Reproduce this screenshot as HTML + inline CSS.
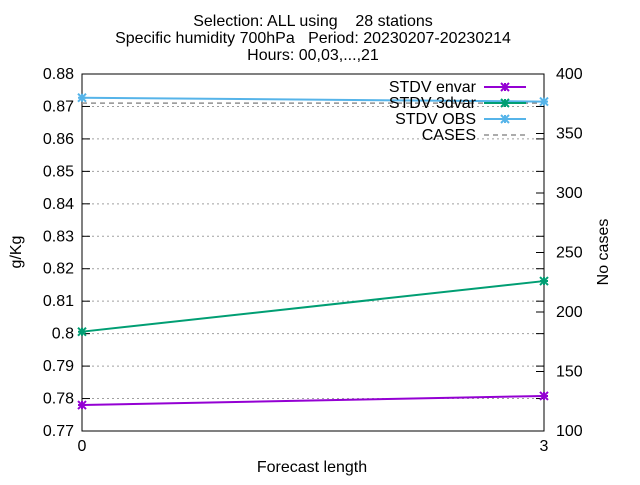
<!DOCTYPE html>
<html><head><meta charset="utf-8"><style>
body{margin:0;background:#fff}
svg{font-family:"Liberation Sans",sans-serif;font-size:16px}
</style></head><body>
<svg id="chart" width="640" height="480">
<g text-anchor="middle" fill="#000">
<text x="313" y="26" xml:space="preserve">Selection: ALL using    28 stations</text>
<text x="313" y="43" xml:space="preserve">Specific humidity 700hPa   Period: 20230207-20230214</text>
<text x="313" y="60">Hours: 00,03,...,21</text>
</g>
<g id="grid"></g><g id="axes"></g><g id="series"></g><g id="legend"></g>
<text transform="translate(21,252) rotate(-90)" text-anchor="middle">g/Kg</text>
<text transform="translate(608,252) rotate(-90)" text-anchor="middle">No cases</text>
<text x="312" y="472" text-anchor="middle">Forecast length</text>
</svg>
<script>
const xCats=[0,3];
const envar=[0.7780,0.7808];
const dvar3=[0.8006,0.8162];
const obs=[0.8727,0.8715];
const cases=[375.5,375.5];
const yTicks=[0.77,0.78,0.79,0.8,0.81,0.82,0.83,0.84,0.85,0.86,0.87,0.88];
const yTickLabels=["0.77","0.78","0.79","0.8","0.81","0.82","0.83","0.84","0.85","0.86","0.87","0.88"];
const y2Ticks=[100,150,200,250,300,350,400];
const NS="http://www.w3.org/2000/svg";
const L=82,R=544,T=74,B=431;
const xs=v=>L+(v-0)/(3-0)*(R-L);
const ys=v=>B-(v-0.77)/(0.88-0.77)*(B-T);
const y2s=v=>B-(v-100)/(300)*(B-T);
function mk(tag,attrs,parent,txt){const e=document.createElementNS(NS,tag);for(const k in attrs)e.setAttribute(k,attrs[k]);if(txt!=null)e.textContent=txt;parent.appendChild(e);return e;}
const grid=document.getElementById('grid'),axes=document.getElementById('axes'),ser=document.getElementById('series'),leg=document.getElementById('legend');
yTicks.forEach((v,i)=>{const y=ys(v);
 if(i>0&&i<yTicks.length-1){const g=mk('line',{x1:L,x2:R,y1:y,y2:y,stroke:'#a0a0a0','stroke-dasharray':'2,3'},grid);
 
 }
 mk('line',{x1:L,x2:L+8,y1:y,y2:y,stroke:'#000'},axes);
 mk('line',{x1:R,x2:R-8,y1:y,y2:y,stroke:'#000'},axes);
 const t=mk('text',{x:L-8,y:y+5,'text-anchor':'end'},axes,yTickLabels[i]);
 
 
});
y2Ticks.forEach(v=>{const y=y2s(v);
 mk('line',{x1:R,x2:R-8,y1:y,y2:y,stroke:'#000'},axes);
 const t=mk('text',{x:R+12,y:y+5},axes,String(v));
 
 
});
xCats.forEach(v=>{const x=xs(v);
 mk('line',{x1:x,x2:x,y1:B,y2:B-8,stroke:'#000'},axes);
 const t=mk('text',{x:x,y:B+20,'text-anchor':'middle'},axes,String(v));
 
 
});
const fr=mk('rect',{x:L,y:T,width:R-L,height:B-T,fill:'none',stroke:'#000'},axes);


function star(x,y,c,p){mk('path',{d:`M${x-4},${y-4}L${x+4},${y+4}M${x-4},${y+4}L${x+4},${y-4}M${x-4},${y}L${x+4},${y}M${x},${y-4}L${x},${y+4}`,stroke:c,'stroke-width':2},p);}
function series(vals,c,name,scale,dash){
 const g=mk('g',{},ser);
 
 
 const pts=vals.map((v,i)=>[xs(xCats[i]),scale(v)]);
 mk('polyline',{points:pts.map(p=>p.join(',')).join(' '),fill:'none',stroke:c,'stroke-width':dash?1.5:2,'stroke-dasharray':dash?'5,4':'none'},g);
 if(!dash)pts.forEach(p=>star(p[0],p[1],c,g));
}
series(cases,'#909090','series-cases',y2s,true);
series(envar,'#9400d3','series-stdv-envar',ys);
series(dvar3,'#009e73','series-stdv-3dvar',ys);
series(obs,'#56b4e9','series-stdv-obs',ys);
const items=[['STDV envar','#9400d3',0],['STDV 3dvar','#009e73',0],['STDV OBS','#56b4e9',0],['CASES','#909090',1]];
items.forEach((it,i)=>{const y=87+i*16;
 const g=mk('g',{},leg);
 
 
 mk('text',{x:476,y:y+5,'text-anchor':'end'},g,it[0]);
 mk('line',{x1:484,x2:526,y1:y,y2:y,stroke:it[1],'stroke-width':it[2]?1.5:2,'stroke-dasharray':it[2]?'5,4':'none'},g);
 if(!it[2])star(505,y,it[1],g);
});
</script>
</body></html>
